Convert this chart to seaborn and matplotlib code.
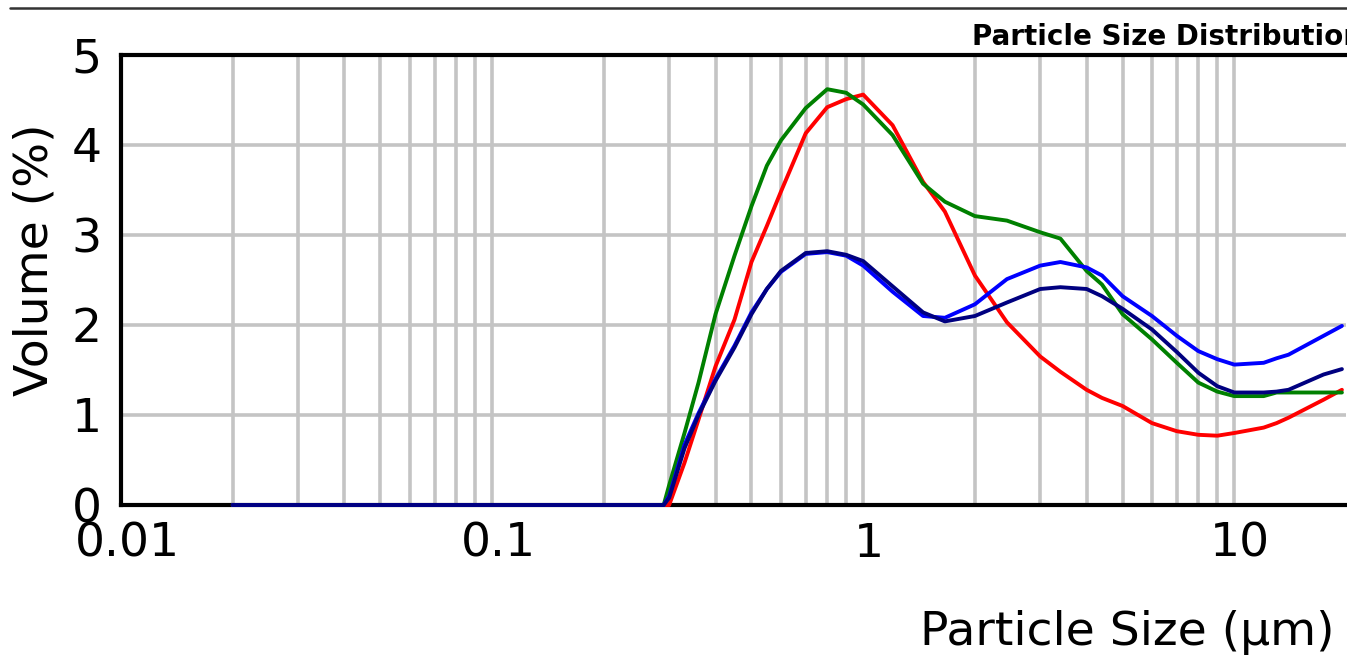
import matplotlib
matplotlib.use("Agg")
import matplotlib.pyplot as plt
import matplotlib.transforms as mtransforms
from matplotlib.lines import Line2D
from matplotlib.ticker import FixedLocator, FixedFormatter, NullFormatter
import seaborn as sns
import pandas as pd

# ---------------- data ----------------
sizes_um = [0.02, 0.29, 0.30, 0.33, 0.36, 0.40, 0.45, 0.50, 0.55, 0.60, 0.70,
            0.80, 0.90, 1.0, 1.2, 1.45, 1.66, 2.0, 2.44, 3.0, 3.4, 4.0, 4.4,
            5, 6, 7, 8, 9, 10, 12, 13, 14, 17.4, 19.5]

red_vol = [0, 0, 0.00, 0.47, 0.95, 1.54, 2.06, 2.70, 3.10, 3.48, 4.13,
           4.42, 4.51, 4.56, 4.22, 3.59, 3.26, 2.55, 2.03, 1.65, 1.48, 1.28, 1.19,
           1.10, 0.91, 0.82, 0.78, 0.77, 0.80, 0.86, 0.91, 0.97, 1.17, 1.28]

green_vol = [0, 0, 0.22, 0.80, 1.36, 2.12, 2.77, 3.32, 3.77, 4.05, 4.41,
             4.62, 4.58, 4.45, 4.11, 3.57, 3.37, 3.21, 3.16, 3.03, 2.96, 2.60, 2.45,
             2.12, 1.84, 1.58, 1.36, 1.26, 1.21, 1.21, 1.25, 1.25, 1.25, 1.25]

blue_vol = [0, 0, 0.10, 0.67, 1.02, 1.40, 1.77, 2.14, 2.40, 2.59, 2.79,
            2.81, 2.77, 2.66, 2.37, 2.10, 2.08, 2.23, 2.51, 2.66, 2.70, 2.64, 2.55,
            2.32, 2.10, 1.88, 1.71, 1.62, 1.56, 1.58, 1.63, 1.67, 1.88, 1.99]

navy_vol = [0, 0, 0.08, 0.63, 1.00, 1.38, 1.75, 2.12, 2.40, 2.60, 2.80,
            2.82, 2.78, 2.71, 2.43, 2.14, 2.04, 2.10, 2.25, 2.40, 2.42, 2.40, 2.32,
            2.18, 1.95, 1.70, 1.47, 1.32, 1.25, 1.25, 1.26, 1.28, 1.45, 1.51]

series_names = ["red", "green", "blue", "navy"]
series_colors = ["#ff0000", "#008000", "#0000ff", "#000080"]

x_major = [0.01, 0.1, 1, 10]
x_major_labels = ["0.01", "0.1", "1", "10"]
x_minor = [k * m for m in (0.01, 0.1, 1) for k in range(2, 10)]
y_ticks = [0, 1, 2, 3, 4, 5]

title_text = "Particle Size Distribution"
x_label = "Particle Size (µm)"
y_label = "Volume (%)"

# ---------------- build table ----------------
frames = []
for name, vals in zip(series_names, [red_vol, green_vol, blue_vol, navy_vol]):
    frames.append(pd.DataFrame({"size": sizes_um, "volume": vals, "series": name}))
df = pd.concat(frames, ignore_index=True)

# ---------------- plot ----------------
sns.set_theme(style="white")
plt.rcParams["font.family"] = ["DejaVu Sans"]
plt.rcParams["text.color"] = "black"
plt.rcParams["axes.labelcolor"] = "black"
plt.rcParams["xtick.color"] = "black"
plt.rcParams["ytick.color"] = "black"

W, H = 1347, 658
fig = plt.figure(figsize=(W / 100, H / 100), dpi=100)
fig.patch.set_facecolor("white")
ax = fig.add_axes([121 / W, (H - 505) / H, 1225 / W, 450 / H])
ax.set_facecolor("white")

sns.lineplot(data=df, x="size", y="volume", hue="series", hue_order=series_names,
             palette=dict(zip(series_names, series_colors)), estimator=None,
             linewidth=2.8, legend=False, ax=ax, zorder=3, clip_on=False)

ax.set_xscale("log")
ax.set_xlim(0.01, 20)
ax.set_ylim(0, 5)
ax.xaxis.set_major_locator(FixedLocator(x_major))
ax.xaxis.set_major_formatter(FixedFormatter(x_major_labels))
ax.xaxis.set_minor_locator(FixedLocator(x_minor))
ax.xaxis.set_minor_formatter(NullFormatter())
ax.yaxis.set_major_locator(FixedLocator(y_ticks))
ax.set_yticklabels([str(v) for v in y_ticks])

grid_kw = dict(color="#c4c4c4", linewidth=2.6)
ax.grid(True, which="both", axis="x", **grid_kw)
ax.grid(True, which="major", axis="y", **grid_kw)
ax.set_axisbelow(True)

ax.tick_params(axis="both", which="both", length=0, labelsize=34,
               colors="black", labelcolor="black")
ax.tick_params(axis="x", pad=12)
ax.tick_params(axis="y", pad=14)
ax.set_xlabel("")
ax.set_ylabel("")

for side in ("left", "bottom", "top"):
    ax.spines[side].set_visible(True)
    ax.spines[side].set_color("black")
    ax.spines[side].set_linewidth(3)
ax.spines["right"].set_visible(False)

offset = mtransforms.ScaledTranslation(6 / 100, 0, fig.dpi_scale_trans)
for lab in ax.get_xticklabels():
    lab.set_transform(lab.get_transform() + offset)

fig.text(1335 / W, 1 - 645 / H, x_label, fontsize=34, ha="right", va="baseline",
         color="black")
fig.text(35 / W, 1 - 260 / H, y_label, fontsize=34, rotation=90, ha="center",
         va="center", color="black")
fig.text(972 / W, 1 - 45 / H, title_text, fontsize=20, fontweight="bold",
         ha="left", va="baseline", color="black")
fig.add_artist(Line2D([10 / W, 1.0], [1 - 8 / H, 1 - 8 / H], color="#333333",
                      linewidth=1.8, transform=fig.transFigure))

fig.savefig("out.png", dpi=100)
